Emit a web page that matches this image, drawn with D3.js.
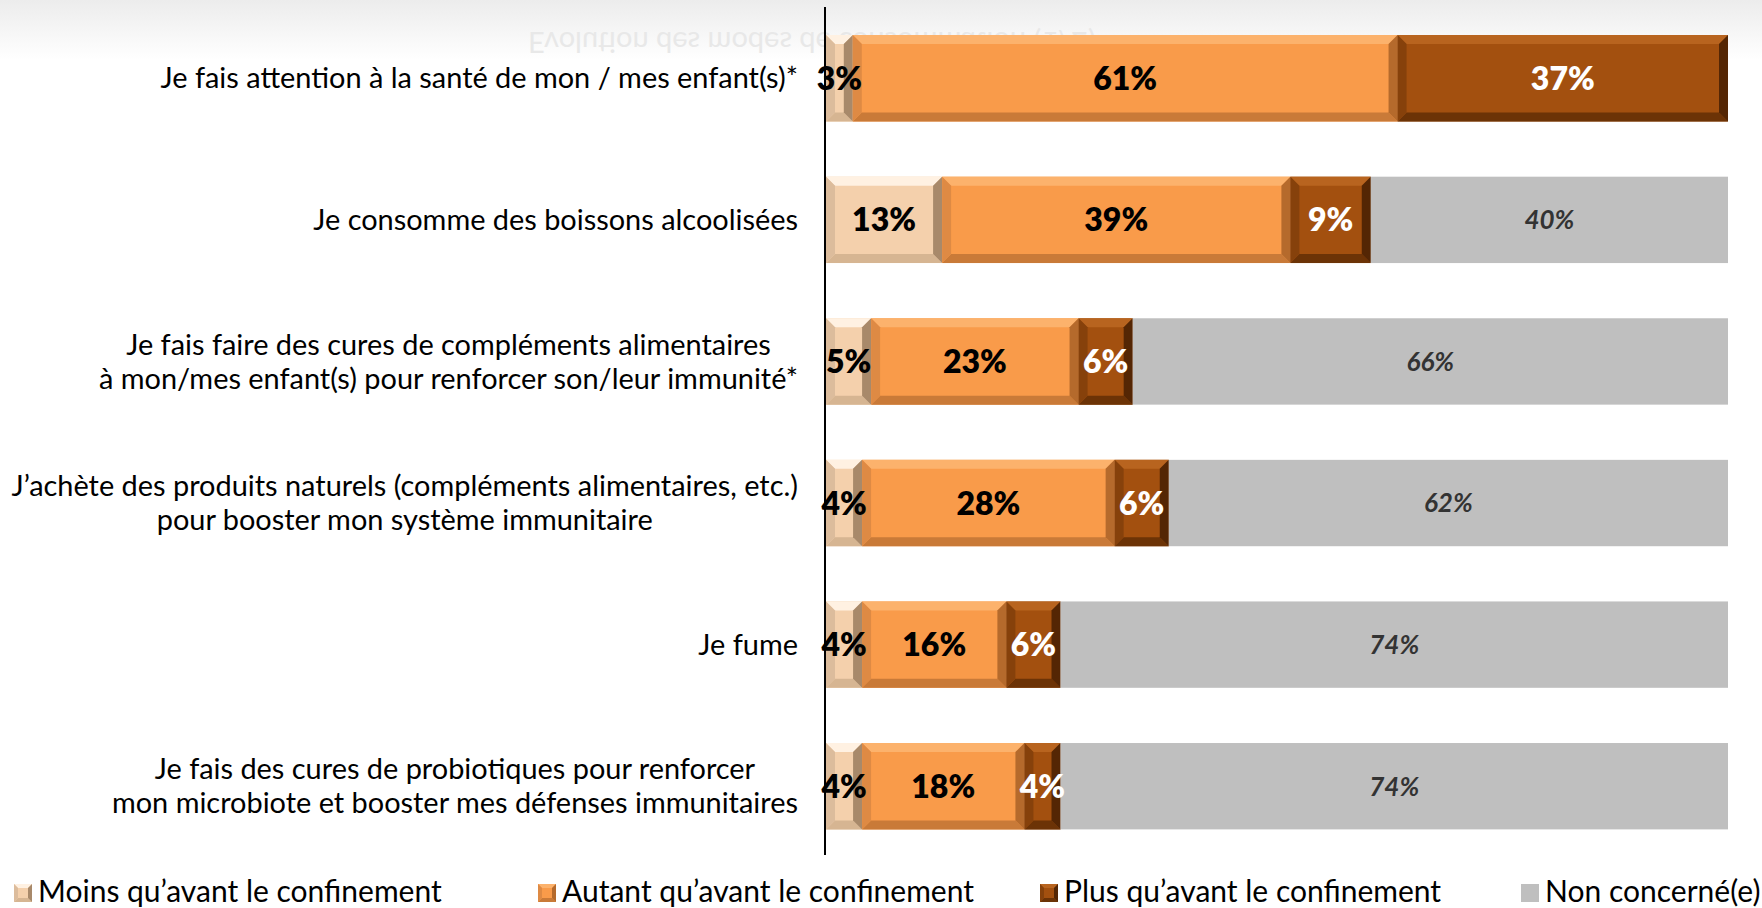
<!DOCTYPE html>
<html>
<head>
<meta charset="utf-8">
<script src="https://cdn.jsdelivr.net/npm/d3@7"></script>
<style>
  html, body { margin: 0; padding: 0; background: #ffffff; }
  svg { display: block; }
</style>
</head>
<body>
<svg id="chart" width="1762" height="908"></svg>
<script>
// ---------- DATA ----------
const categories = [
  ["Je fais attention à la santé de mon / mes enfant(s)*"],
  ["Je consomme des boissons alcoolisées"],
  ["Je fais faire des cures de compléments alimentaires", "à mon/mes enfant(s) pour renforcer son/leur immunité*"],
  ["J’achète des produits naturels (compléments alimentaires, etc.)", "pour booster mon système immunitaire"],
  ["Je fume"],
  ["Je fais des cures de probiotiques pour renforcer", "mon microbiote et booster mes défenses immunitaires"]
];
const moins       = [3, 13, 5, 4, 4, 4];
const autant      = [61, 39, 23, 28, 16, 18];
const plus        = [37, 9, 6, 6, 6, 4];
const nonConcerne = [0, 40, 66, 62, 74, 74];
const seriesNames = ["Moins qu’avant le confinement", "Autant qu’avant le confinement", "Plus qu’avant le confinement", "Non concerné(e)"];
const reflectedTitle = "Evolution des modes de consommation (1/2)";

// ---------- SETUP ----------
const W = 1762, H = 908;
const svg = d3.select("#chart");
const FONT = "Lato, 'Open Sans', sans-serif";

const keys = ["moins", "autant", "plus", "non"];
const rows = categories.map((c, i) => ({
  idx: i, moins: moins[i], autant: autant[i], plus: plus[i], non: nonConcerne[i]
}));
const stack = d3.stack().keys(keys).offset(d3.stackOffsetExpand);
const stacked = stack(rows);

const x = d3.scaleLinear().domain([0, 1]).range([826, 1728]);
const y = d3.scaleBand().domain(d3.range(categories.length)).range([7.5, 857])
  .paddingInner(0.39).paddingOuter(0.195);

const styles = {
  moins:  { base: "#f4d0ac", top: "#fff1e2", bottom: "#d6b592", left: "#dcbc9c", right: "#a8896a", label: "#000", beveled: true },
  autant: { base: "#f99b4a", top: "#fcb26c", bottom: "#c97a38", left: "#de8a44", right: "#b56a2c", label: "#000", beveled: true },
  plus:   { base: "#a3500f", top: "#b8641f", bottom: "#6c3306", left: "#86410b", right: "#542604", label: "#fff", beveled: true },
  non:    { base: "#bfbfbf", label: "#333333", beveled: false }
};

// ---------- BACKGROUND ----------
const defs = svg.append("defs");
const bg = defs.append("linearGradient").attr("id", "topfade").attr("x1", 0).attr("y1", 0).attr("x2", 0).attr("y2", 1);
bg.append("stop").attr("offset", "0%").attr("stop-color", "#ececec");
bg.append("stop").attr("offset", "100%").attr("stop-color", "#ffffff");
svg.append("rect").attr("x", 0).attr("y", 0).attr("width", W).attr("height", 60).attr("fill", "url(#topfade)");

// faint reflected title (upside-down)
svg.append("text")
  .attr("transform", "translate(528,32) scale(1,-1)")
  .attr("font-family", FONT).attr("font-size", 29)
  .attr("fill", "#e8e8e8")
  .text(reflectedTitle);

// ---------- BARS ----------
function bevelFaces(x0, x1, y0, y1, b) {
  b = Math.min(b, (x1 - x0) / 2, (y1 - y0) / 2);
  return {
    top:    [[x0, y0], [x1, y0], [x1 - b, y0 + b], [x0 + b, y0 + b]],
    bottom: [[x0, y1], [x1, y1], [x1 - b, y1 - b], [x0 + b, y1 - b]],
    left:   [[x0, y0], [x0 + b, y0 + b], [x0 + b, y1 - b], [x0, y1]],
    right:  [[x1, y0], [x1 - b, y0 + b], [x1 - b, y1 - b], [x1, y1]]
  };
}
const pts = p => p.map(d => d.join(",")).join(" ");

function drawBlock(g, x0, x1, y0, y1, st, b) {
  g.append("rect").attr("x", x0).attr("y", y0).attr("width", Math.max(0, x1 - x0)).attr("height", y1 - y0)
    .attr("fill", st.base);
  if (!st.beveled) return;
  const f = bevelFaces(x0, x1, y0, y1, b);
  g.append("polygon").attr("points", pts(f.top)).attr("fill", st.top);
  g.append("polygon").attr("points", pts(f.bottom)).attr("fill", st.bottom);
  g.append("polygon").attr("points", pts(f.left)).attr("fill", st.left);
  g.append("polygon").attr("points", pts(f.right)).attr("fill", st.right);
}

const barsG = svg.append("g");
stacked.forEach(layer => {
  const key = layer.key;
  layer.forEach((d, i) => {
    const x0 = x(d[0]), x1 = x(d[1]);
    if (x1 - x0 <= 0.01) return;
    const y0 = y(i), y1 = y(i) + y.bandwidth();
    drawBlock(barsG, x0, x1, y0, y1, styles[key], 9);
  });
});

// value labels
const labelsG = svg.append("g");
stacked.forEach(layer => {
  const key = layer.key;
  layer.forEach((d, i) => {
    const v = d.data[key];
    if (!v) return;
    const cx = (x(d[0]) + x(d[1])) / 2;
    const cy = y(i) + y.bandwidth() / 2;
    const isNon = key === "non";
    labelsG.append("text")
      .attr("x", cx).attr("y", cy).attr("dy", "0.36em")
      .attr("text-anchor", "middle")
      .attr("font-family", FONT)
      .attr("font-weight", isNon ? 700 : 800)
      .attr("font-style", isNon ? "italic" : "normal")
      .attr("font-size", isNon ? 26 : 32)
      .attr("fill", styles[key].label)
      .text(v + "%");
  });
});

// axis line
svg.append("line").attr("x1", 825).attr("x2", 825).attr("y1", 7).attr("y2", 855)
  .attr("stroke", "#000").attr("stroke-width", 2);

// ---------- CATEGORY LABELS ----------
const catG = svg.append("g").attr("font-family", FONT).attr("fill", "#000");
const probe = catG.append("text").attr("font-size", 100).text(categories[3][0]);
const catSize = 100 * 787 / probe.node().getComputedTextLength();
probe.remove();
const lineH = 34;
const labelRight = 798;
categories.forEach((lines, i) => {
  const cy = y(i) + y.bandwidth() / 2;
  const t = catG.append("text").attr("font-size", catSize).attr("text-anchor", "middle");
  const tspans = lines.map((ln, k) => t.append("tspan").text(ln));
  const maxW = d3.max(tspans, s => s.node().getComputedTextLength());
  const cx = labelRight - maxW / 2;
  const n = lines.length;
  tspans.forEach((s, k) => {
    s.attr("x", cx).attr("y", cy + (k - (n - 1) / 2) * lineH).attr("dy", "0.35em");
  });
});

// ---------- LEGEND ----------
const legendX = [14, 538, 1040, 1521];
const legG = svg.append("g").attr("font-family", FONT);
const probe2 = legG.append("text").attr("font-size", 100).text(seriesNames[0]);
const legSize = 100 * 404 / probe2.node().getComputedTextLength();
probe2.remove();
const legBase = 902;
keys.forEach((k, i) => {
  const g = legG.append("g");
  const sz = 18;
  drawBlock(g, legendX[i], legendX[i] + sz, legBase - sz, legBase, styles[k], 4);
  g.append("text").attr("x", legendX[i] + sz + 6).attr("y", legBase)
    .attr("font-size", legSize).attr("fill", "#000").text(seriesNames[i]);
});
</script>
</body>
</html>
